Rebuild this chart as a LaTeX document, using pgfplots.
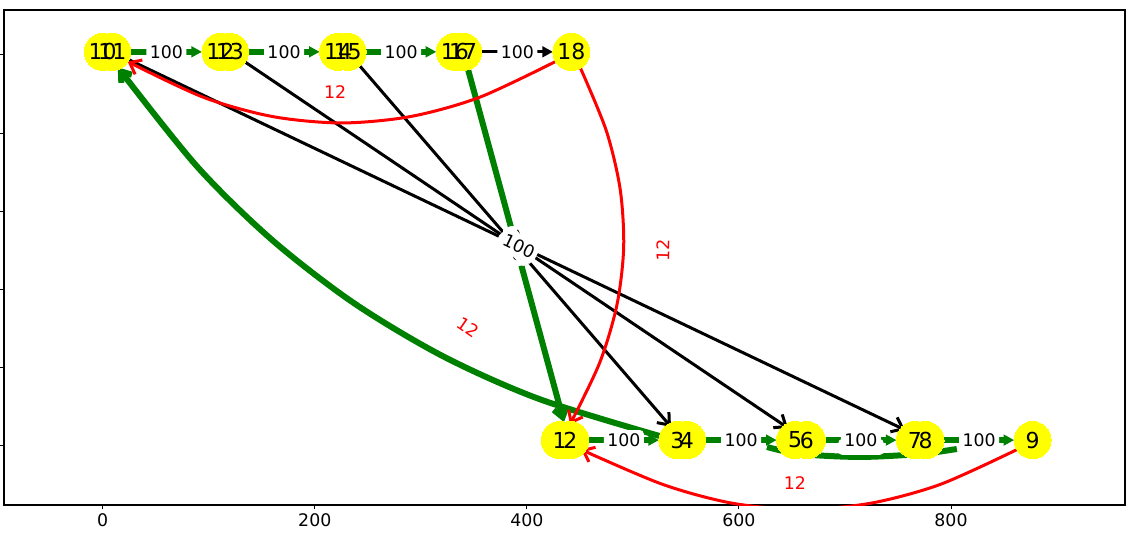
\documentclass[border=0pt]{standalone}
\usepackage{pgfplots}
\pgfplotsset{compat=1.18}
\usepackage{pgfplotstable}
\usepackage{fontspec}
\setmainfont{DejaVu Sans}
\usetikzlibrary{arrows.meta}
\definecolor{nxgreen}{RGB}{0,128,0}
\definecolor{nxyellow}{RGB}{255,255,0}
\definecolor{nxred}{RGB}{255,0,0}

\pgfplotstableread{
x y label
0 1.008 10
9 1.008 11
111 1.008 12
120 1.008 13
222 1.008 14
231 1.008 15
332 1.008 16
340 1.008 17
442 1.008 18
431 0.015 1
441 0.015 2
542 0.015 3
551 0.015 4
653 0.015 5
664 0.015 6
766 0.015 7
776 0.015 8
877 0.015 9
}\nodesdata

\tikzset{
  elabel/.style={fill=white, rounded corners=3pt, inner sep=2.6pt, text=black, font=\fontsize{13}{15}\selectfont},
  rlabel/.style={fill=white, rounded corners=3pt, inner sep=2.6pt, text=nxred, font=\fontsize{13}{15}\selectfont},
}

\begin{document}
\begin{tikzpicture}
\path[use as bounding box] (0,0) rectangle (844.5pt,401.25pt);
\begin{axis}[
  at={(3pt,22.5pt)}, anchor=south west,
  scale only axis, width=840.75pt, height=371.25pt,
  xmin=-93.1, xmax=964.1, ymin=-0.151, ymax=1.115,
  xtick={0,200,400,600,800}, ytick={0,0.2,0.4,0.6,0.8,1},
  yticklabels={},
  xtick pos=left, ytick pos=left, tick align=outside,
  major tick length=3.2pt,
  every tick/.style={black, line width=0.75pt},
  axis line style={line width=0.8pt, black},
  tick label style={font=\fontsize{13}{15}\selectfont},
  /pgf/number format/assume math mode=true,
  clip=true,
]
% black straight edges (weight 100)
\addplot[black, line width=2.25pt, -{Straight Barb[length=7.5pt,width=12pt]}] coordinates {(9,1.008) (756.6,0.041)};
\addplot[black, line width=2.25pt, -{Straight Barb[length=7.5pt,width=12pt]}] coordinates {(120,1.008) (646.3,0.046)};
\addplot[black, line width=2.25pt, -{Straight Barb[length=7.5pt,width=12pt]}] coordinates {(231,1.008) (535.9,0.049)};
\addplot[black, line width=2.25pt, -{Triangle[length=8pt,width=8pt]}] coordinates {(340,1.008) (424.6,1.008)};
% green highlighted edges
\addplot[nxgreen, line width=4.8pt, -{Triangle[length=8pt,width=8pt]}] coordinates {(9,1.008) (93.6,1.008)};
\addplot[nxgreen, line width=4.8pt, -{Triangle[length=8pt,width=8pt]}] coordinates {(120,1.008) (204.6,1.008)};
\addplot[nxgreen, line width=4.8pt, -{Triangle[length=8pt,width=8pt]}] coordinates {(231,1.008) (314.6,1.008)};
\addplot[nxgreen, line width=4.8pt, -{Triangle[length=8pt,width=8pt]}] coordinates {(441,0.015) (524.6,0.015)};
\addplot[nxgreen, line width=4.8pt, -{Triangle[length=8pt,width=8pt]}] coordinates {(551,0.015) (635.6,0.015)};
\addplot[nxgreen, line width=4.8pt, -{Triangle[length=8pt,width=8pt]}] coordinates {(664,0.015) (748.6,0.015)};
\addplot[nxgreen, line width=4.8pt, -{Triangle[length=8pt,width=8pt]}] coordinates {(776,0.015) (859.6,0.015)};
\addplot[nxgreen, line width=4.5pt, -{Straight Barb[length=7pt,width=10pt]}] coordinates {(340,1.008) (435.0,0.061)};
\addplot[nxgreen, line width=4.5pt, smooth, -{Straight Barb[length=7pt,width=10pt]}] coordinates {
  (525.0,0.0256) (411.2,0.1205) (320.6,0.2299) (236.7,0.3657) (159.4,0.5276) (88.6,0.7159) (14.2,0.9685)};
\addplot[nxgreen, line width=4.5pt, smooth] coordinates {
  (626.5,-0.0026) (657.5,-0.0205) (714.1,-0.0281) (770.6,-0.0205) (805.5,-0.0077)};
% red edges (weight 12)
\addplot[nxred, line width=2.25pt, smooth, -{Straight Barb[length=7.5pt,width=12pt]}] coordinates {
  (426.9,0.983) (355.3,0.8916) (290.3,0.8425) (225.2,0.8261) (160.1,0.8425) (95.1,0.8916) (23.5,0.983)};
\addplot[nxred, line width=2.25pt, smooth, -{Straight Barb[length=7.5pt,width=12pt]}] coordinates {
  (450.6,0.9662) (474.9,0.8064) (488.0,0.6565) (491.3,0.5072) (484.8,0.3588) (468.4,0.2110) (440.7,0.0552)};
\addplot[nxred, line width=2.25pt, smooth, -{Straight Barb[length=7.5pt,width=12pt]}] coordinates {
  (862.4,-0.009) (790.0,-0.0982) (724.5,-0.1463) (659.0,-0.1624) (593.5,-0.1463) (528.0,-0.0982) (451.0,-0.009)};
% nodes (circles)
\addplot[only marks, color=nxyellow, mark=*, mark size=13.9pt, mark options={fill=nxyellow, draw=nxyellow, line width=0pt}]
  table[x=x, y=y] {\nodesdata};
% node labels
\addplot[only marks, mark=none, draw=none,
  nodes near coords, point meta=explicit symbolic,
  every node near coord/.append style={anchor=center, text=black, font=\fontsize{16.5}{18}\selectfont}]
  table[x=x, y=y, meta=label] {\nodesdata};
% edge labels
\node[elabel] at (axis cs:60,1.008) {100};
\node[elabel] at (axis cs:171,1.008) {100};
\node[elabel] at (axis cs:281.5,1.008) {100};
\node[elabel] at (axis cs:391,1.008) {100};
\node[elabel] at (axis cs:491.5,0.015) {100};
\node[elabel] at (axis cs:602,0.015) {100};
\node[fill=white, rounded corners=3pt, minimum width=34pt, minimum height=12pt, inner sep=0pt] at (axis cs:715.1,-0.0026) {};
\node[elabel] at (axis cs:715,0.015) {100};
\node[elabel] at (axis cs:826.5,0.015) {100};
\node[elabel, rotate=-74.4] at (axis cs:390.5,0.5115) {100};
\node[elabel, rotate=-48.7] at (axis cs:391,0.5115) {100};
\node[elabel, rotate=-33.9] at (axis cs:392,0.5115) {100};
\node[elabel, rotate=-25.5] at (axis cs:392.5,0.5115) {100};
\node[rlabel] at (axis cs:219.1,0.905) {12};
\node[rlabel, rotate=88.3] at (axis cs:528.3,0.5013) {12};
\node[rlabel] at (axis cs:652.7,-0.0946) {12};
\node[rlabel, rotate=-34.4] at (axis cs:344.5,0.3043) {12};
\end{axis}
\end{tikzpicture}
\end{document}
